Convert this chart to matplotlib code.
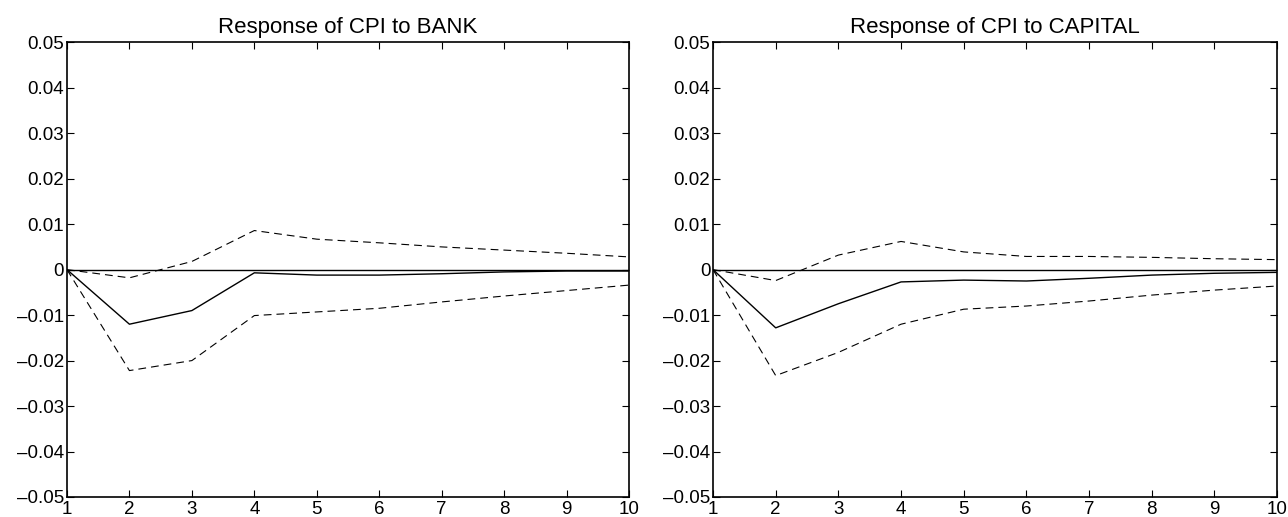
import matplotlib
matplotlib.use("Agg")
import matplotlib.pyplot as plt
from matplotlib.ticker import FixedLocator, FuncFormatter

plt.rcParams['font.family'] = ['Liberation Sans', 'DejaVu Sans']

periods = [1, 2, 3, 4, 5, 6, 7, 8, 9, 10]
titles = ["Response of CPI to BANK", "Response of CPI to CAPITAL"]

bank_resp = [0, -0.0120, -0.0090, -0.0007, -0.0012, -0.0012, -0.0009, -0.0005, -0.0003, -0.0003]
bank_upper = [0, -0.0018, 0.0018, 0.0086, 0.0067, 0.0059, 0.0050, 0.0043, 0.0036, 0.0028]
bank_lower = [0, -0.0222, -0.0200, -0.0101, -0.0093, -0.0085, -0.0071, -0.0058, -0.0046, -0.0034]

cap_resp = [0, -0.0128, -0.0075, -0.0027, -0.0023, -0.0025, -0.0019, -0.0012, -0.0008, -0.0006]
cap_upper = [0, -0.0024, 0.0032, 0.0062, 0.0039, 0.0029, 0.0029, 0.0027, 0.0024, 0.0022]
cap_lower = [0, -0.0233, -0.0182, -0.0120, -0.0087, -0.0080, -0.0069, -0.0056, -0.0045, -0.0036]

yticks = [-0.05, -0.04, -0.03, -0.02, -0.01, 0, 0.01, 0.02, 0.03, 0.04, 0.05]

def fmt(v, pos):
    if abs(v) < 1e-12:
        return "0"
    s = "%.2f" % abs(v)
    return ("\u2013" if v < 0 else "") + s

fig = plt.figure(figsize=(12.88, 5.17), dpi=100)
boxes = [[0.052, 0.0387, 0.4364, 0.8795], [0.5536, 0.0387, 0.4379, 0.8795]]
series = [(bank_resp, bank_upper, bank_lower), (cap_resp, cap_upper, cap_lower)]

for box, title, (r, u, l) in zip(boxes, titles, series):
    ax = fig.add_axes(box)
    ax.plot(periods, [0] * len(periods), color='black', lw=1.0)
    ax.plot(periods, r, color='black', lw=1.0)
    ax.plot(periods, u, color='black', lw=0.8, ls=(0, (7, 4.5)))
    ax.plot(periods, l, color='black', lw=0.8, ls=(0, (7, 4.5)))
    ax.set_xlim(1, 10)
    ax.set_ylim(-0.05, 0.05)
    ax.xaxis.set_major_locator(FixedLocator(periods))
    ax.yaxis.set_major_locator(FixedLocator(yticks))
    ax.yaxis.set_major_formatter(FuncFormatter(fmt))
    ax.tick_params(direction='in', top=True, right=True, length=5, width=0.8,
                   labelsize=13.5)
    ax.tick_params(axis='y', pad=2)
    ax.tick_params(axis='x', pad=3)
    for sp in ax.spines.values():
        sp.set_linewidth(1.2)
    ax.set_title(title, fontsize=16, pad=7)

fig.savefig("out.png", dpi=100)
